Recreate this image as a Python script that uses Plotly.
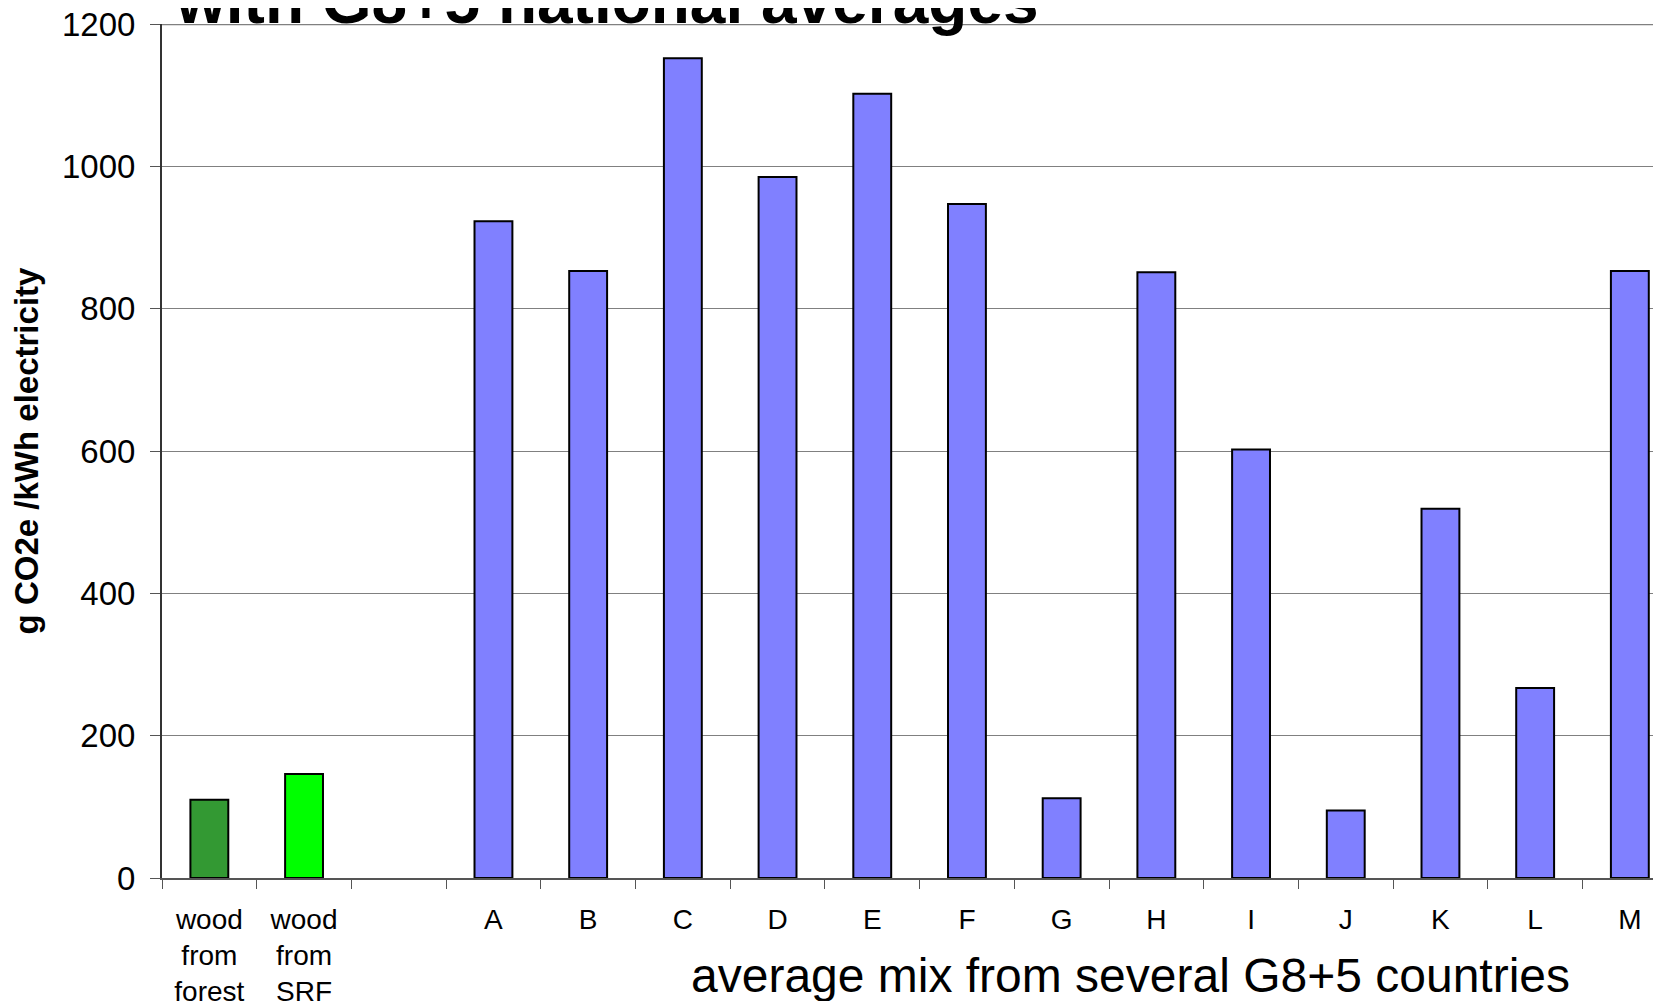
import plotly.graph_objects as go

categories = ["wood<br>from<br>forest", "wood<br>from<br>SRF", " ",
              "A", "B", "C", "D", "E", "F", "G", "H", "I", "J", "K", "L", "M"]
values = [110, 146, None, 923, 853, 1152, 985, 1102, 947, 112, 851, 602, 95, 519, 267, 853]
bar_colors = ["#339933", "#00FF00", "#8080FF"] + ["#8080FF"] * 13

y_ticks = [0, 200, 400, 600, 800, 1000, 1200]
title_text = "with G8+5 national averages"
x_title = "average mix from several G8+5 countries"
y_title = "g CO2e /kWh electricity"

W, H = 1661, 1001
OFF = 8  # page body margin
L, T = 162 - OFF, 24 - OFF
B = H - (878 - OFF)
plot_w = W - L
plot_h = H - T - B
cat_px = 94.7
x_max = -0.5 + plot_w / cat_px

fig = go.Figure(go.Bar(
    x=categories, y=values,
    marker=dict(color=bar_colors, line=dict(color="black", width=2)),
    width=0.4,
))

fig.update_layout(
    width=W, height=H,
    margin=dict(l=L, r=0, t=T, b=B, autoexpand=False),
    plot_bgcolor="white", paper_bgcolor="white",
    showlegend=False,
    font=dict(family="Liberation Sans, Arial, sans-serif", color="black"),
)

fig.update_xaxes(
    type="category", categoryorder="array", categoryarray=categories,
    range=[-0.5, x_max],
    tickson="boundaries", ticks="outside", ticklen=9, tickwidth=1.3, tickcolor="#555",
    showline=True, linecolor="#555", linewidth=2,
    tickfont=dict(size=28), ticklabelstandoff=15, ticklabeloverflow="allow",
    showgrid=False, zeroline=False,
)
fig.update_yaxes(
    range=[0, 1200], tickvals=y_ticks, ticktext=[str(v) for v in y_ticks],
    ticks="outside", ticklen=10, tickwidth=1.3, tickcolor="#555",
    showline=True, linecolor="#333", linewidth=2,
    showgrid=True, gridcolor="#808080", gridwidth=1.3,
    zeroline=False,
    tickfont=dict(size=33), ticklabelstandoff=8, ticklabeloverflow="allow",
    title=dict(text="<b>" + y_title + "</b>", font=dict(size=33), standoff=14),
)

# top gridline at 1200
fig.add_shape(type="line", xref="paper", yref="y", x0=0, x1=1, y0=1200, y1=1200,
              line=dict(color="#808080", width=2.5), layer="below")

# chart title (top part cut off by the page edge, as in the reference)
fig.add_annotation(
    text="<b>" + title_text + "</b>", xref="paper", yref="paper",
    x=(173 - OFF - L) / plot_w, y=1 + (T + 6.5) / plot_h,
    xanchor="left", yanchor="middle", showarrow=False,
    font=dict(size=64, family="Liberation Sans, Arial, sans-serif", color="black"),
)
# x-axis title
fig.add_annotation(
    text=x_title, xref="paper", yref="paper",
    x=(1130 - OFF - L) / plot_w, y=-(975 - 878) / plot_h,
    xanchor="center", yanchor="middle", showarrow=False,
    font=dict(size=48, family="Liberation Sans, Arial, sans-serif", color="black"),
)

fig.write_html("out.html")
